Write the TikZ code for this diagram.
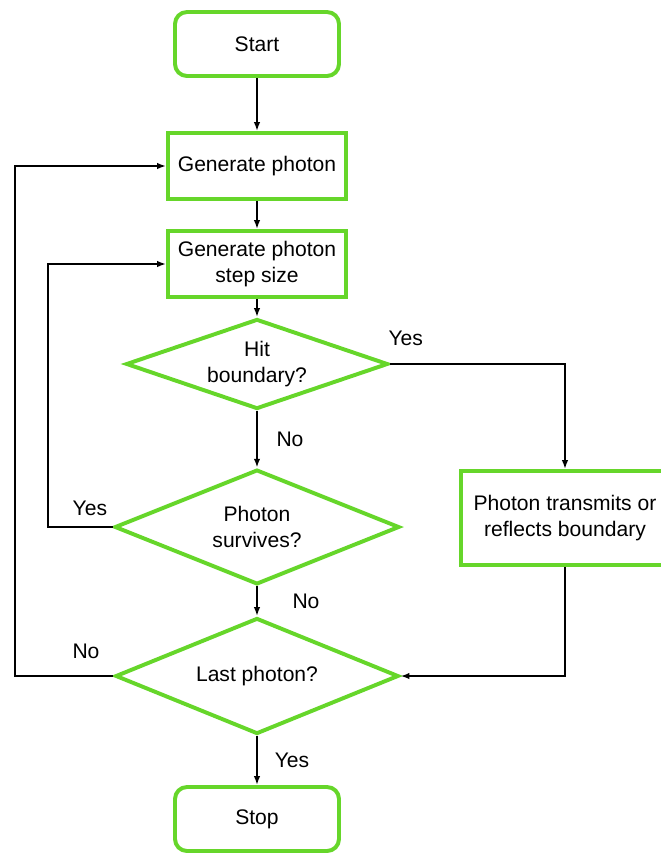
\documentclass[tikz,border=0pt]{standalone}
\usepackage{fontspec}
\setmainfont{Liberation Sans}
\usetikzlibrary{shapes.geometric,arrows.meta}

\definecolor{flowgreen}{RGB}{102,214,42}

\tikzset{
  terminal/.style={rectangle, rounded corners=0.3cm, draw=flowgreen, line width=2.8pt, minimum width=4.1cm, minimum height=1.6cm},
  process/.style={rectangle, draw=flowgreen, line width=2.8pt, minimum width=4.45cm, minimum height=1.65cm, align=center},
  decision/.style={diamond, draw=flowgreen, line width=2.8pt, inner sep=0pt, align=center},
  lbl/.style={inner sep=0pt}
}

\begin{document}
\begin{tikzpicture}[font=\fontsize{15}{18}\selectfont, >={Latex[length=2.2mm,width=1.6mm]}, line width=1.4pt]
    \useasboundingbox (0,0) rectangle (16.525,-21.375);
    \clip (0,0) rectangle (16.525,-21.375);

    \node[terminal] (start) at (6.425, -1.1) {Start};
    \node[process] (gen) at (6.425, -4.15) {Generate photon};
    \node[process] (step) at (6.425, -6.6) {Generate photon\\step size};
    \node[decision, shape aspect=2.9, minimum width=6.55cm, minimum height=2.25cm] (hit) at (6.425, -9.1) {Hit\\boundary?};
    \node[decision, shape aspect=2.48, minimum width=7.12cm, minimum height=2.87cm] (surv) at (6.425, -13.175) {Photon\\survives?};
    \node[decision, shape aspect=2.44, minimum width=7.08cm, minimum height=2.9cm] (last) at (6.425, -16.9) {Last photon?};
    \node[terminal] (stop) at (6.425, -20.475) {Stop};
    \node[process, minimum width=5.2cm, minimum height=2.35cm] (trans) at (14.125, -12.95) {Photon transmits or\\reflects boundary};

    \draw[->] (start) -- (gen);
    \draw[->] (gen) -- (step);
    \draw[->] (step) -- (hit);
    \draw[->] (hit) -- node[lbl, xshift=0.825cm] {No} (surv);
    \draw[->] (hit.east) -| node[lbl, pos=0.045, yshift=0.65cm] {Yes} (trans.north);
    \draw[->] (surv) -- node[lbl, xshift=1.225cm] {No} (last);
    \draw[->] (surv.west) -- node[lbl, pos=0.35, yshift=0.475cm] {Yes} ++(-1.625,0) |- (step.west);
    \draw[->] (last) -- node[lbl, xshift=0.875cm] {Yes} (stop);
    \draw[->] (last.west) -- node[lbl, pos=0.28, yshift=0.625cm] {No} ++(-2.45,0) |- (gen.west);
    \draw[->] (trans.south) |- (last.east);
  \end{tikzpicture}
\end{document}
